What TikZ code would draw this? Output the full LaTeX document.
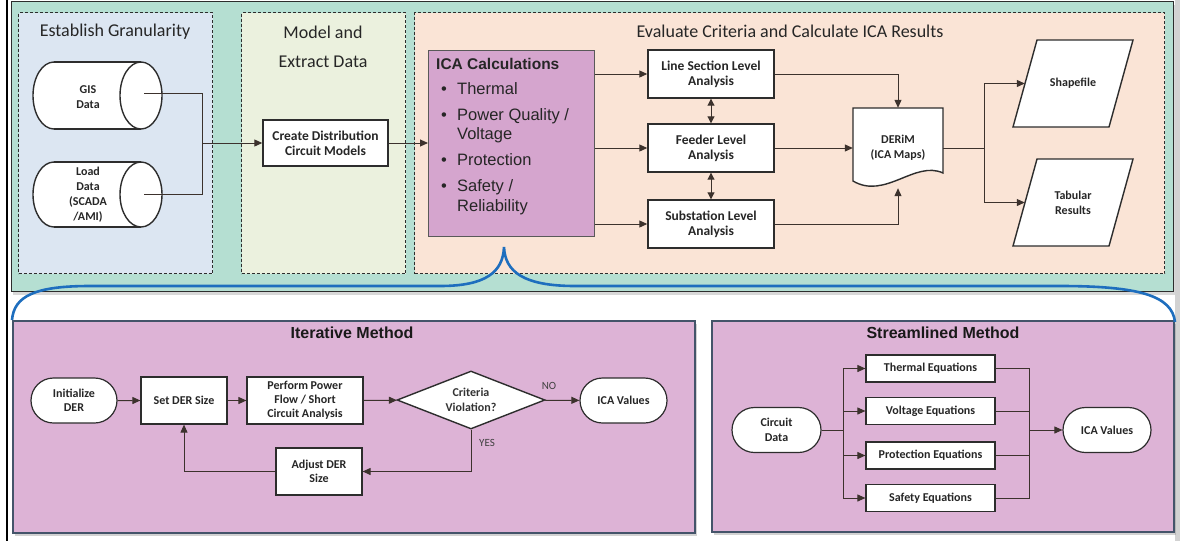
\documentclass[tikz,border=0pt]{standalone}
\usepackage{fontspec}
\setmainfont{Carlito}
\newfontfamily\arialf{Liberation Sans}
\usetikzlibrary{arrows.meta,shapes.geometric,shapes.misc,shadows}
\definecolor{tealbg}{RGB}{181,223,210}
\definecolor{bluebg}{RGB}{220,230,242}
\definecolor{greenbg}{RGB}{235,241,222}
\definecolor{peachbg}{RGB}{250,228,214}
\definecolor{pinkbg}{RGB}{221,179,214}
\definecolor{icabg}{RGB}{213,165,206}
\definecolor{bracec}{RGB}{30,110,190}
\definecolor{panelbd}{RGB}{68,84,106}
\definecolor{boxc}{RGB}{45,45,45}
\definecolor{linec}{RGB}{60,50,45}
\begin{document}
\begin{tikzpicture}[x=1pt,y=-1pt,
  arr/.style={draw=linec, line width=1pt, -{Triangle[length=8pt,width=7pt]}},
  dbl/.style={draw=linec, line width=1pt, {Triangle[length=7pt,width=7pt]}-{Triangle[length=7pt,width=7pt]}},
  ln/.style={draw=linec, line width=1pt},
  dpanel/.style={draw=boxc, line width=1.2pt, dash pattern=on 3pt off 2pt, anchor=north west, inner sep=0},
  mpanel/.style={draw=panelbd, line width=1.5pt, fill=pinkbg, anchor=north west, inner sep=0,
     drop shadow={shadow xshift=2pt, shadow yshift=-3pt, opacity=.35}},
  ttl/.style={font=\fontsize{18}{29}\selectfont, text=black!85, align=center},
  btl/.style={font=\arialf\bfseries\fontsize{16}{18}\selectfont, text=black!90},
  wbox/.style={draw=boxc, line width=1.4pt, fill=white, align=center, inner sep=1pt,
     font=\fontsize{13.5}{15}\selectfont\bfseries, text=black!85},
  sbox/.style={draw=boxc, line width=1.2pt, fill=white, align=center, inner sep=1pt,
     font=\fontsize{12}{14.5}\selectfont\bfseries, text=black!85},
  term/.style={sbox, rounded rectangle},
  txt/.style={align=center, font=\fontsize{12}{15}\selectfont\bfseries, text=black!85},
  blt/.style={anchor=west, font=\arialf\fontsize{16.5}{18}\selectfont, text=black!85, text height=12pt, text depth=3pt, inner sep=0}
]
\useasboundingbox (0,0) rectangle (1180,541);
\fill[white] (0,0) rectangle (1180,541);
\draw[black, line width=2pt] (7,0) -- (7,541);
\fill[gray!35] (1175,0) rectangle (1180,541);

% ---------- top panel ----------
\node[draw=boxc, line width=1.3pt, fill=tealbg, anchor=north west, inner sep=0,
      minimum width=1162, minimum height=290,
      drop shadow={shadow xshift=1pt, shadow yshift=-3pt, opacity=.3}] (toppanel) at (11,1) {};
\node[dpanel, fill=bluebg, minimum width=194, minimum height=261] (estab) at (18,12) {};
\node[dpanel, fill=greenbg, minimum width=164, minimum height=261] (model) at (241,12) {};
\node[dpanel, fill=peachbg, minimum width=750, minimum height=261] (evalp) at (414,12) {};

\node[ttl] (t1) at (115,32) {Establish Granularity};
\node[ttl] (t2) at (323,47) {Model and\\Extract Data};
\node[ttl] (t3) at (790,31) {Evaluate Criteria and Calculate ICA Results};

% cylinders
\foreach \cy/\ry in {95.5/33.5, 194.5/32.5}{
  \filldraw[draw=boxc, line width=1.4pt, fill=white] (54,\cy) ellipse [x radius=21, y radius=\ry];
  \fill[white] (54,\cy-\ry) rectangle (141,\cy+\ry);
  \draw[boxc, line width=1.4pt] (54,\cy-\ry) -- (141,\cy-\ry) (54,\cy+\ry) -- (141,\cy+\ry);
  \filldraw[draw=boxc, line width=1.4pt, fill=white] (141,\cy) ellipse [x radius=21, y radius=\ry];
}
\node[txt] (gis) at (88,97) {GIS\\Data};
\node[txt] (load) at (88,195) {Load\\Data\\(SCADA\\/AMI)};
\coordinate (gisp) at (144,93);
\coordinate (loadp) at (144,194);
\coordinate (jn) at (202,143);

\node[wbox, minimum width=125, minimum height=46] (create) at (325.5,143) {Create Distribution\\Circuit Models};

% ICA calculations box
\node[draw=black!65, line width=1.4pt, fill=icabg, anchor=north west, inner sep=0,
      minimum width=166, minimum height=186] (ica) at (428,50) {};
\node[anchor=west, inner sep=0, font=\arialf\bfseries\fontsize{15.5}{18}\selectfont, text=black!85] (icat) at (436,64) {ICA Calculations};
\node[blt] (b1) at (441,90) {\textbullet};
\node[blt] (i1) at (457,90) {Thermal};
\node[blt] (b2) at (441,116) {\textbullet};
\node[blt] (i2) at (457,116) {Power Quality /};
\node[blt] (i2b) at (457,135) {Voltage};
\node[blt] (b3) at (441,161) {\textbullet};
\node[blt] (i3) at (457,161) {Protection};
\node[blt] (b4) at (441,187) {\textbullet};
\node[blt] (i4) at (457,187) {Safety /};
\node[blt] (i4b) at (457,207) {Reliability};

\node[wbox, minimum width=126, minimum height=48] (line) at (711,74) {Line Section Level\\Analysis};
\node[wbox, minimum width=126, minimum height=48] (feeder) at (711,148) {Feeder Level\\Analysis};
\node[wbox, minimum width=126, minimum height=48] (subst) at (711,224) {Substation Level\\Analysis};

% DERiM document shape
\filldraw[draw=boxc, line width=1.4pt, fill=white] (853,108) -- (943,108) -- (943,173)
   .. controls (915,160) and (885,200) .. (853,181) -- cycle;
\node[inner sep=0, minimum width=90, minimum height=80, txt] (derim) at (898,148) {\raisebox{7pt}{\begin{tabular}{@{}c@{}}DERiM\\(ICA Maps)\end{tabular}}};

% parallelograms
\foreach \cy in {83.5, 202.5}{
  \filldraw[draw=boxc, line width=1.4pt, fill=white] (1037,\cy-43.5) -- (1133,\cy-43.5) -- (1109,\cy+43.5) -- (1013,\cy+43.5) -- cycle;
}
\node[txt, minimum width=96, minimum height=87, inner sep=0] (shp) at (1073,83.5) {Shapefile};
\node[txt, minimum width=96, minimum height=87, inner sep=0] (tab) at (1073,202.5) {Tabular\\Results};
\coordinate (split) at (984,148);

% top connectors
\draw[ln] (gisp) -| (jn);
\draw[ln] (loadp) -| (jn);
\draw[arr] (jn) -- (create.west);
\draw[arr] (create.east) -- (create.east -| ica.west);
\draw[arr] (ica.east |- line.west) -- (line.west);
\draw[arr] (ica.east |- feeder.west) -- (feeder.west);
\draw[arr] (ica.east |- subst.west) -- (subst.west);
\draw[dbl] (line.south) -- (feeder.north);
\draw[dbl] (feeder.south) -- (subst.north);
\draw[arr] (line.east) -| (derim.north);
\draw[arr] (feeder.east) -- (derim.west);
\draw[arr] (subst.east) -| (derim.south);
\draw[ln] (derim.east) -- (split);
\draw[arr] (split) |- (shp.west);
\draw[arr] (split) |- (tab.west);

% ---------- bottom panels ----------
\node[mpanel, minimum width=682, minimum height=212] (iter) at (12,320) {};
\node[mpanel, minimum width=462, minimum height=211] (stream) at (711,320) {};
\node[btl] (itl) at (352,333) {Iterative Method};
\node[btl] (stl) at (943,333) {Streamlined Method};

% iterative
\node[term, minimum width=88, minimum height=45] (init) at (74,400.5) {Initialize\\DER};
\node[sbox, minimum width=86, minimum height=47] (setder) at (184,400.5) {Set DER Size};
\node[sbox, minimum width=116, minimum height=47, font=\fontsize{12}{14}\selectfont\bfseries] (perform) at (305,400.5) {Perform Power\\Flow / Short\\Circuit Analysis};
\node[diamond, draw=boxc, line width=1.4pt, fill=white, inner sep=0, aspect=2.55,
      minimum width=148, minimum height=58, align=center,
      font=\fontsize{12}{14.5}\selectfont\bfseries, text=black!80] (crit) at (471,400) {Criteria\\Violation?};
\node[term, minimum width=89, minimum height=45] (icav1) at (623.5,400.5) {ICA Values};
\node[sbox, minimum width=86, minimum height=47] (adjust) at (319,471.5) {Adjust DER\\Size};
\node[font=\fontsize{11}{12}\selectfont, text=black!75] (no) at (549,386) {NO};
\node[font=\fontsize{11}{12}\selectfont, text=black!75] (yes) at (487,443) {YES};

\draw[arr] (init) -- (setder);
\draw[arr] (setder) -- (perform);
\draw[arr] (perform) -- (crit);
\draw[arr] (crit) -- (icav1);
\draw[arr] (crit.south) |- (adjust.east);
\draw[arr] (adjust.west) -| (setder.south);

% streamlined
\node[term, minimum width=91, minimum height=45] (cdata) at (776.5,430) {Circuit\\Data};
\node[sbox, minimum width=129, minimum height=27] (eqt) at (930.5,368.5) {Thermal Equations};
\node[sbox, minimum width=129, minimum height=27] (eqv) at (930.5,411) {Voltage Equations};
\node[sbox, minimum width=129, minimum height=27] (eqp) at (930.5,455.5) {Protection Equations};
\node[sbox, minimum width=129, minimum height=27] (eqs) at (930.5,498) {Safety Equations};
\node[term, minimum width=90, minimum height=45] (icav2) at (1107,430) {ICA Values};
\coordinate (sp) at (843,430);
\coordinate (mg) at (1029,430);
\draw[ln] (cdata.east) -- (sp);
\foreach \e in {eqt,eqv,eqp,eqs}{
  \draw[arr] (sp) |- (\e.west);
  \draw[ln] (\e.east) -| (mg);
}
\draw[arr] (mg) -- (icav2.west);

% ---------- brace ----------
\draw[bracec, line width=2.6pt] (12,320) .. controls (14,296) and (35,286) .. (90,286)
   -- (440,286) .. controls (486,286) and (503,272) .. (504,247)
   .. controls (505,272) and (524,286) .. (575,286)
   -- (1060,286) .. controls (1140,286) and (1172,296) .. (1175,322);
\end{tikzpicture}
\end{document}
